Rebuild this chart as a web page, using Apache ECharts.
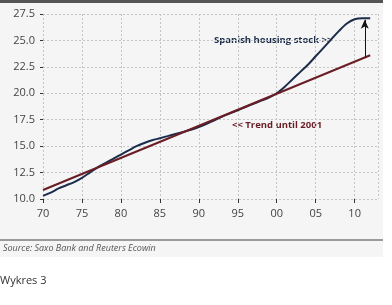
<!DOCTYPE html>
<html>
<head>
    <meta charset="UTF-8">
    <title>Spanish housing stock</title>
    <script src="https://cdn.jsdelivr.net/npm/echarts@6/dist/echarts.min.js"></script>
    <style>
        body, html {
            margin: 0;
            padding: 0;
            background: #fff;
        }

        #chart {
            width: 392px;
            height: 305px;
        }
    </style>
</head>
<body>
<div id="chart"></div>
<script>
    // housing stock, millions of dwellings, yearly
    var years = [1970, 1971, 1972, 1973, 1974, 1975, 1976, 1977, 1978, 1979,
        1980, 1981, 1982, 1983, 1984, 1985, 1986, 1987, 1988, 1989,
        1990, 1991, 1992, 1993, 1994, 1995, 1996, 1997, 1998, 1999,
        2000, 2001, 2002, 2003, 2004, 2005, 2006, 2007, 2008, 2009,
        2010, 2011, 2012];
    var stock = [10.3, 10.6, 11.0, 11.3, 11.6, 12.0, 12.5, 13.0, 13.4, 13.8,
        14.2, 14.6, 15.0, 15.3, 15.55, 15.75, 15.95, 16.15, 16.35, 16.55,
        16.8, 17.1, 17.45, 17.8, 18.1, 18.4, 18.7, 19.0, 19.3, 19.6,
        20.0, 20.6, 21.3, 22.0, 22.7, 23.5, 24.3, 25.1, 25.9, 26.6,
        27.0, 27.1, 27.1];

    // trend until 2001 (straight line, two ends)
    var trendYears = [1970, 2012];
    var trendValues = [10.85, 23.6];

    // arrow between trend and stock
    var gapYear = 2011.3;
    var gapFrom = 23.4;
    var gapTo = 26.95;

    var yTicks = [10.0, 12.5, 15.0, 17.5, 20.0, 22.5, 25.0, 27.5];

    var navy = '#1b2d4b';
    var maroon = '#6b1d26';

    var chart = echarts.init(document.getElementById('chart'), null, {renderer: 'canvas'});

    var option = {
        backgroundColor: '#ffffff',
        animation: false,
        textStyle: {fontFamily: 'Open Sans'},
        grid: {left: 43, right: 14, top: 14, bottom: 106, outerBoundsMode: 'none', containLabel: false},
        xAxis: {
            type: 'value',
            min: 1970,
            max: 2013,
            interval: 5,
            axisLine: {show: false},
            axisTick: {show: true, length: 4, lineStyle: {color: '#333'}},
            axisLabel: {
                color: '#444', fontSize: 11, margin: 9, showMaxLabel: false,
                formatter: function (v) {
                    var s = String(v % 100);
                    return s.length < 2 ? '0' + s : s;
                }
            },
            splitLine: {show: true, lineStyle: {color: '#c4c4c4', type: [2, 2], width: 1}}
        },
        yAxis: {
            type: 'value',
            min: yTicks[0],
            max: yTicks[yTicks.length - 1],
            interval: 2.5,
            name: 'millions',
            nameLocation: 'middle',
            nameGap: 29,
            nameTextStyle: {color: '#333', fontSize: 10, fontWeight: 'bold'},
            axisLine: {show: false},
            axisTick: {show: true, length: 3, lineStyle: {color: '#333'}},
            axisLabel: {
                color: '#444', fontSize: 11, margin: 8,
                formatter: function (v) {
                    return v.toFixed(1);
                }
            },
            splitLine: {show: true, lineStyle: {color: '#c4c4c4', type: [2, 2], width: 1}}
        },
        graphic: [
            {type: 'rect', z: -100, shape: {x: 0, y: 0, width: 383, height: 257}, style: {fill: '#f5f5f5'}},
            {type: 'rect', z: -99, shape: {x: 0, y: 0, width: 383, height: 3}, style: {fill: '#555'}},
            {type: 'rect', z: -99, shape: {x: 0, y: 239, width: 383, height: 2}, style: {fill: '#9a9a9a'}},
            {
                type: 'text', left: 3, top: 244,
                style: {
                    text: 'Source: Saxo Bank and Reuters Ecowin', fill: '#555',
                    font: 'italic 9px "Open Sans"'
                }
            },
            {
                type: 'text', left: 0, top: 275,
                style: {text: 'Wykres 3', fill: '#333', font: '11px "Open Sans"'}
            },
            {
                type: 'text', left: 214, top: 35,
                style: {text: 'Spanish housing stock >>', fill: navy, font: 'bold 9.5px "Open Sans"'}
            },
            {
                type: 'text', left: 232, top: 120,
                style: {text: '<< Trend until 2001', fill: maroon, font: 'bold 9.5px "Open Sans"'}
            }
        ],
        series: [
            {
                name: 'Trend until 2001',
                type: 'line',
                data: trendYears.map(function (y, i) {
                    return [y, trendValues[i]];
                }),
                showSymbol: false,
                lineStyle: {color: maroon, width: 2},
                z: 3,
                markLine: {
                    silent: true,
                    symbol: ['none', 'arrow'],
                    symbolSize: [6, 9],
                    label: {show: false},
                    lineStyle: {color: '#111', width: 1, type: 'solid'},
                    data: [[{coord: [gapYear, gapFrom]}, {coord: [gapYear, gapTo]}]]
                }
            },
            {
                name: 'Spanish housing stock',
                type: 'line',
                data: years.map(function (y, i) {
                    return [y, stock[i]];
                }),
                showSymbol: false,
                smooth: 0.3,
                lineStyle: {color: navy, width: 2},
                z: 2
            }
        ]
    };

    chart.setOption(option);
</script>
</body>
</html>
